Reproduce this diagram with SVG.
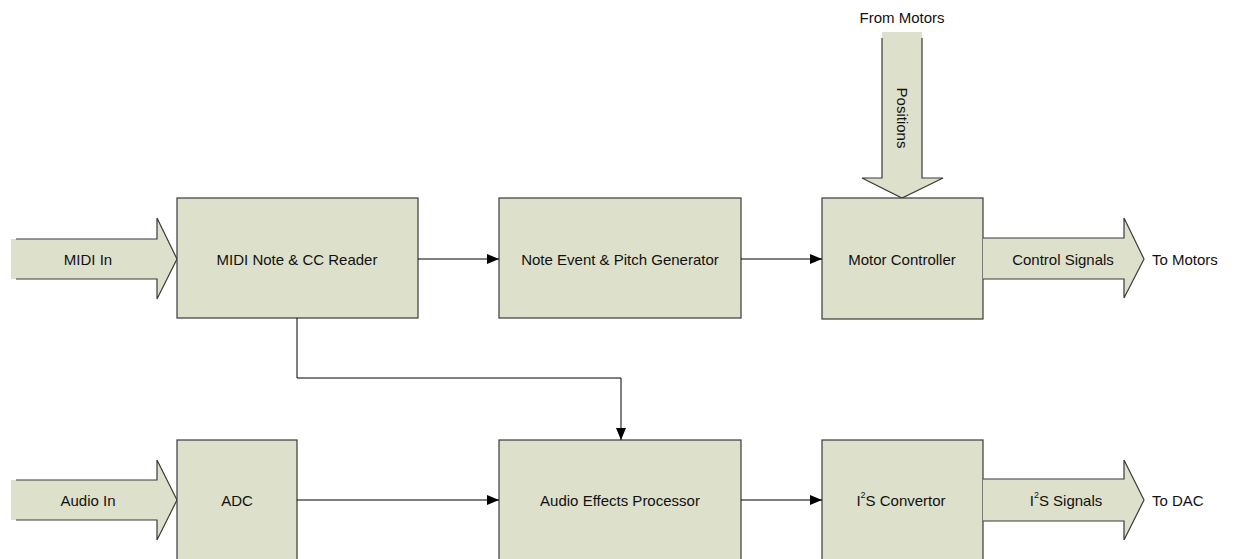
<svg xmlns="http://www.w3.org/2000/svg" width="1237" height="559" viewBox="0 0 1237 559">
<defs>
<style>
.box{fill:#dde0cb;stroke:#3a3a3a;stroke-width:1.2}
.af{fill:#dde0cb;stroke:none}
.ao{fill:none;stroke:#3a3a3a;stroke-width:1.2}
.ln{fill:none;stroke:#000;stroke-width:1}
text{font-family:"Liberation Sans",Arial,sans-serif;font-size:15px;fill:#111;text-anchor:middle;dominant-baseline:central}
.st{font-size:9px;dominant-baseline:auto}
</style>
<marker id="ah" markerWidth="12" markerHeight="10" refX="12" refY="5" orient="auto" markerUnits="userSpaceOnUse">
<path d="M0,0 L12,5 L0,10 Z" fill="#000"/>
</marker>
</defs>
<rect width="1237" height="559" fill="#fff"/>

<g id="midi-in">
<polygon class="af" points="11,239 157,239 157,218 177,259 157,299 157,279 11,279"/>
<polyline class="ao" points="16,239 157,239 157,218 177,259 157,299 157,279 16,279"/>
<text x="88" y="259">MIDI In</text>
</g>
<g id="midi-reader">
<rect class="box" x="177" y="198" width="241" height="120"/>
<text x="297" y="259">MIDI Note &amp; CC Reader</text>
</g>
<g id="note-event">
<rect class="box" x="499" y="198" width="242" height="120"/>
<text x="620" y="259">Note Event &amp; Pitch Generator</text>
</g>
<g id="positions">
<polygon class="af" points="882,32 922,32 922,178 943,178 902,198 862,178 882,178"/>
<polyline class="ao" points="882,38 882,178 862,178 902,198 943,178 922,178 922,38"/>
<text x="902" y="118" transform="rotate(90 902 118)">Positions</text>
<text x="902" y="17">From Motors</text>
</g>
<g id="motor-controller">
<rect class="box" x="822" y="198" width="161" height="121"/>
<text x="902" y="259">Motor Controller</text>
</g>
<g id="control-signals">
<polygon class="af" points="983,238 1124,238 1124,218 1144,259 1124,298 1124,279 983,279"/>
<polyline class="ao" points="983,238 1124,238 1124,218 1144,259 1124,298 1124,279 983,279"/>
<text x="1063" y="259">Control Signals</text>
<text x="1152" y="259" style="text-anchor:start">To Motors</text>
</g>

<g id="audio-in">
<polygon class="af" points="11,480 157,480 157,460 177,500 157,540 157,520 11,520"/>
<polyline class="ao" points="16,480 157,480 157,460 177,500 157,540 157,520 16,520"/>
<text x="88" y="500">Audio In</text>
</g>
<g id="adc">
<rect class="box" x="177" y="440" width="120" height="130"/>
<text x="237" y="500">ADC</text>
</g>
<g id="audio-effects">
<rect class="box" x="499" y="440" width="242" height="130"/>
<text x="620" y="500">Audio Effects Processor</text>
</g>
<g id="i2s-convertor">
<rect class="box" x="822" y="440" width="161" height="130"/>
<text x="901" y="500">I<tspan class="st" dy="-5">2</tspan><tspan dy="5">S Convertor</tspan></text>
</g>
<g id="i2s-signals">
<polygon class="af" points="983,479 1124,479 1124,460 1144,500 1124,540 1124,521 983,521"/>
<polyline class="ao" points="983,479 1124,479 1124,460 1144,500 1124,540 1124,521 983,521"/>
<text x="1066" y="500">I<tspan class="st" dy="-5">2</tspan><tspan dy="5">S Signals</tspan></text>
<text x="1152" y="500" style="text-anchor:start">To DAC</text>
</g>

<g id="connectors">
<line class="ln" x1="418" y1="259" x2="499" y2="259" marker-end="url(#ah)"/>
<line class="ln" x1="741" y1="259" x2="822" y2="259" marker-end="url(#ah)"/>
<polyline class="ln" points="297,318 297,378 621,378 621,440" marker-end="url(#ah)"/>
<line class="ln" x1="297" y1="500" x2="499" y2="500" marker-end="url(#ah)"/>
<line class="ln" x1="741" y1="500" x2="822" y2="500" marker-end="url(#ah)"/>
</g>
</svg>
